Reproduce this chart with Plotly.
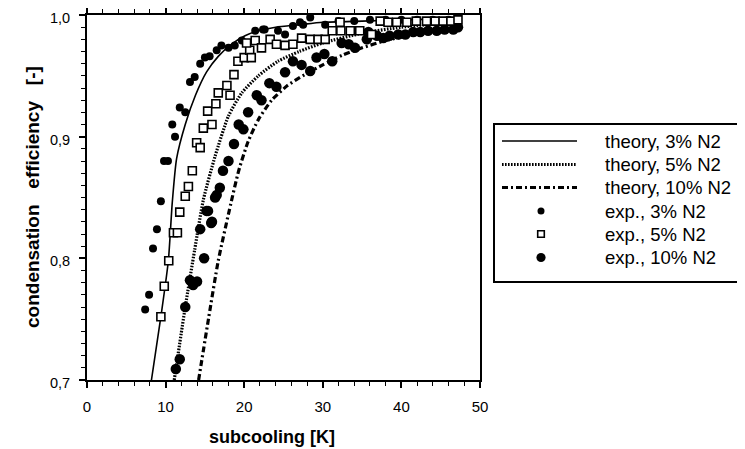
import plotly.graph_objects as go

# ---- theory curves ----
th3_x = [8.2, 9.4, 10.35, 10.85, 11.4, 12.5, 13.8, 15.2, 16.7, 18.4, 20.1, 21.8, 24.0, 27.0, 30.0, 35.0, 40.0, 47.0]
th3_y = [0.700, 0.752, 0.798, 0.846, 0.882, 0.910, 0.934, 0.953, 0.966, 0.976, 0.983, 0.987, 0.990, 0.992, 0.994, 0.995, 0.996, 0.997]

th5_x = [11.1, 12.5, 13.7, 14.8, 16.3, 18.0, 19.7, 21.8, 24.3, 27.0, 30.0, 35.0, 40.0, 47.0]
th5_y = [0.700, 0.760, 0.807, 0.848, 0.884, 0.917, 0.936, 0.950, 0.962, 0.970, 0.977, 0.985, 0.990, 0.994]

th10_x = [14.2, 15.5, 16.7, 18.3, 19.3, 20.5, 21.8, 23.5, 25.5, 27.7, 30.0, 32.5, 35.0, 38.0, 41.0, 44.0, 47.0]
th10_y = [0.700, 0.752, 0.798, 0.845, 0.872, 0.896, 0.914, 0.930, 0.942, 0.951, 0.959, 0.967, 0.973, 0.979, 0.983, 0.986, 0.988]

# ---- experiments ----
ex3_x = [7.4, 7.9, 8.4, 8.9, 9.4, 9.8, 10.3, 10.85, 11.2, 11.8, 12.5, 13.1, 13.7, 14.4, 15.0, 15.6,
         16.5, 17.1, 18.0, 18.8, 19.7, 21.4, 22.4, 22.6, 24.3, 25.2, 26.2, 27.1, 27.5, 28.4, 30.3,
         32.0, 34.0, 36.0, 38.0, 40.0, 42.0, 44.0, 46.0]
ex3_y = [0.758, 0.770, 0.808, 0.824, 0.847, 0.880, 0.880, 0.910, 0.900, 0.924, 0.920, 0.945, 0.949, 0.960, 0.965, 0.966,
         0.971, 0.975, 0.973, 0.975, 0.979, 0.987, 0.988, 0.988, 0.987, 0.984, 0.991, 0.994, 0.992, 0.998, 0.992,
         0.995, 0.995, 0.996, 0.996, 0.996, 0.996, 0.996, 0.996]

ex5_x = [9.4, 9.83, 10.4, 11.0, 11.5, 11.8, 12.5, 12.9, 13.4, 13.95, 14.4, 14.8, 15.35, 15.9, 16.4, 16.7,
         17.8, 18.2, 18.7, 19.2, 20.0, 20.7, 20.9, 20.3, 21.4, 22.2, 23.3, 24.1, 25.2, 26.2, 27.3, 28.4,
         29.4, 30.3, 31.2, 32.3, 32.2, 33.5, 34.7, 36.2, 37.3, 38.3, 39.4, 40.7, 41.9, 43.2, 44.3, 45.3,
         46.3, 47.2]
ex5_y = [0.752, 0.777, 0.798, 0.821, 0.821, 0.838, 0.851, 0.859, 0.872, 0.895, 0.891, 0.907, 0.921, 0.910, 0.927, 0.936,
         0.942, 0.934, 0.951, 0.962, 0.965, 0.971, 0.965, 0.977, 0.979, 0.973, 0.980, 0.976, 0.975, 0.976, 0.981, 0.980,
         0.980, 0.980, 0.987, 0.987, 0.994, 0.987, 0.987, 0.984, 0.995, 0.994, 0.994, 0.994, 0.995, 0.995, 0.995, 0.995,
         0.995, 0.996]

ex10_x = [11.3, 11.8, 12.5, 13.1, 13.5, 14.0, 14.4, 14.9, 15.2, 15.4, 15.9, 15.8, 16.3, 16.9, 16.5, 17.3,
          18.0, 18.7, 19.3, 19.9, 20.5, 21.6, 22.2, 23.2, 24.1, 25.2, 26.2, 27.3, 28.4, 29.2, 30.2, 31.2,
          32.4, 33.3, 34.1, 35.6, 35.8, 36.9, 37.7, 38.5, 39.6, 40.5, 41.5, 42.4, 43.4, 44.5, 45.5, 46.6, 47.2]
ex10_y = [0.709, 0.717, 0.760, 0.782, 0.778, 0.781, 0.824, 0.800, 0.839, 0.839, 0.830, 0.829, 0.850, 0.858, 0.852, 0.872,
          0.880, 0.894, 0.910, 0.906, 0.920, 0.934, 0.930, 0.944, 0.941, 0.953, 0.962, 0.959, 0.954, 0.965, 0.968, 0.962,
          0.977, 0.976, 0.973, 0.980, 0.986, 0.983, 0.981, 0.983, 0.984, 0.984, 0.986, 0.986, 0.987, 0.987, 0.988, 0.988, 0.990]

x_ticks = [0, 10, 20, 30, 40, 50]
y_ticks = [0.7, 0.8, 0.9, 1.0]

legend_labels = ["theory, 3% N2", "theory, 5% N2", "theory, 10% N2",
                 "exp., 3% N2", "exp., 5% N2", "exp., 10% N2"]

FONT = "Liberation Sans, Arial, sans-serif"
DASH5 = "1.6px,1.4px"
DASH10 = "6px,3px,2px,3px"

fig = go.Figure()
fig.add_trace(go.Scatter(x=th3_x, y=th3_y, mode="lines", name=legend_labels[0],
                         line=dict(color="black", width=1.6, shape="spline", smoothing=0.6)))
fig.add_trace(go.Scatter(x=th5_x, y=th5_y, mode="lines", name=legend_labels[1],
                         line=dict(color="black", width=3.2, dash=DASH5, shape="spline", smoothing=0.6)))
fig.add_trace(go.Scatter(x=th10_x, y=th10_y, mode="lines", name=legend_labels[2],
                         line=dict(color="black", width=3.2, dash=DASH10, shape="spline", smoothing=0.6)))
fig.add_trace(go.Scatter(x=ex3_x, y=ex3_y, mode="markers", name=legend_labels[3],
                         marker=dict(symbol="circle", size=8, color="black")))
fig.add_trace(go.Scatter(x=ex10_x, y=ex10_y, mode="markers", name=legend_labels[5],
                         marker=dict(symbol="circle", size=10.5, color="black")))
fig.add_trace(go.Scatter(x=ex5_x, y=ex5_y, mode="markers", name=legend_labels[4],
                         marker=dict(symbol="square", size=8, color="white",
                                     line=dict(color="black", width=1.6))))

# ---- hand-drawn legend box (layout only) ----
L, T, W, H = 79, 7, 393, 365          # plot area in figure pixels
def px(fx):
    return (fx - L) / W
def py(fy):
    return (T + H - fy) / H

shapes = [dict(type="rect", xref="paper", yref="paper",
               x0=px(486), x1=px(733), y0=py(116), y1=py(274),
               line=dict(color="black", width=2), fillcolor="white", layer="above")]
row_y = [133, 156.5, 179.5, 203, 226, 249.5]
samp_x0, samp_x1, mark_x, text_x = 494, 569, 533, 595
line_styles = [dict(width=1.6, dash="solid"), dict(width=3.2, dash=DASH5), dict(width=3.2, dash=DASH10)]
for i in range(3):
    shapes.append(dict(type="line", xref="paper", yref="paper",
                       x0=px(samp_x0), x1=px(samp_x1), y0=py(row_y[i]), y1=py(row_y[i]),
                       line=dict(color="black", **line_styles[i]), layer="above"))
marker_defs = [("circle", 3.5, "black", 0), ("rect", 3.3, "white", 1.6), ("circle", 4.6, "black", 0)]
for j, (kind, r, fill, lw) in enumerate(marker_defs):
    shapes.append(dict(type=kind, xref="paper", yref="paper",
                       xsizemode="pixel", ysizemode="pixel",
                       xanchor=px(mark_x), yanchor=py(row_y[3 + j]),
                       x0=-r, x1=r, y0=-r, y1=r,
                       fillcolor=fill, line=dict(color="black", width=lw), layer="above"))

annotations = [
    dict(text="<b>subcooling [K]</b>", xref="paper", yref="paper", x=px(264), y=py(429),
         xanchor="center", yanchor="middle", showarrow=False,
         font=dict(family=FONT, size=18)),
    dict(text="<b>condensation   efficiency   [-]</b>", xref="paper", yref="paper", x=px(25), y=py(189),
         xanchor="center", yanchor="middle", showarrow=False, textangle=-90,
         font=dict(family=FONT, size=19)),
]
for i, lab in enumerate(legend_labels):
    annotations.append(dict(text=lab, xref="paper", yref="paper", x=px(text_x), y=py(row_y[i]),
                            xanchor="left", yanchor="middle", showarrow=False,
                            font=dict(family=FONT, size=18.5, color="black")))

fig.update_layout(
    width=737, height=441,
    margin=dict(l=L, r=737 - L - W, t=T, b=441 - T - H, autoexpand=False),
    paper_bgcolor="white", plot_bgcolor="white",
    separators=",.",
    font=dict(family=FONT, size=14, color="black"),
    showlegend=False,
    shapes=shapes,
    annotations=annotations,
)
fig.update_xaxes(range=[0, 50], tickvals=x_ticks, ticktext=[str(v) for v in x_ticks],
                 automargin=False, ticklabeloverflow="allow",
                 showgrid=False, zeroline=False, showline=True, linecolor="black", linewidth=2,
                 mirror="allticks", ticks="outside", ticklen=6, tickwidth=1.5, tickcolor="black",
                 minor=dict(dtick=2, ticks="outside", ticklen=4, tickwidth=1.2, tickcolor="black"),
                 tickfont=dict(family=FONT, size=15), ticklabelstandoff=6)
fig.update_yaxes(range=[0.7, 1.0], tickvals=y_ticks, tickformat=".1f",
                 automargin=False, ticklabeloverflow="allow",
                 showgrid=False, zeroline=False, showline=True, linecolor="black", linewidth=2,
                 mirror=True, ticks="outside", ticklen=6, tickwidth=1.5, tickcolor="black",
                 minor=dict(dtick=0.01, ticks="outside", ticklen=4, tickwidth=1.2, tickcolor="black"),
                 tickfont=dict(family=FONT, size=14.5), ticklabelstandoff=6, ticklabelshift=3)

fig.write_html("out.html")
